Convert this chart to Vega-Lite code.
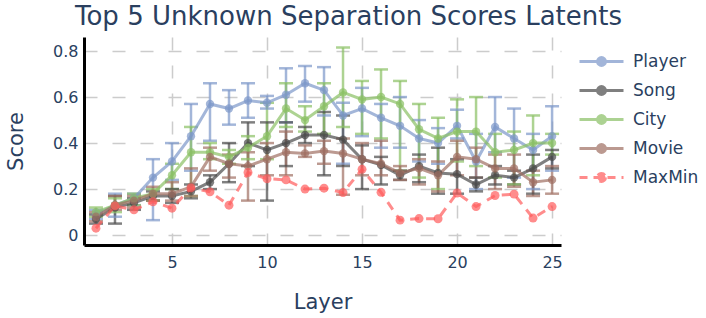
{
  "$schema": "https://vega.github.io/schema/vega-lite/v6.json",
  "width": 477,
  "height": 208,
  "autosize": "none",
  "padding": {"left": 84, "top": 37, "right": 145, "bottom": 73},
  "background": "white",
  "title": {"text": "Top 5 Unknown Separation Scores Latents", "font": "DejaVu Sans", "fontSize": 26, "fontWeight": "normal", "color": "#2a3f5f", "anchor": "middle", "offset": 7, "dx": 26},
  "config": {
    "view": {"stroke": null},
    "axis": {"labelFont": "DejaVu Sans", "labelFontSize": 16, "labelColor": "#2a3f5f", "titleFont": "DejaVu Sans", "titleFontSize": 21, "titleFontWeight": "normal", "titleColor": "#2a3f5f", "ticks": false, "domainColor": "#000000", "domainWidth": 3, "gridColor": "#cccccc", "gridDash": [13, 15], "gridWidth": 1.5}
  },
  "datasets": {
    "err": [
      {"layer":1,"series":"Player","mean":0.09,"lo":0.07,"hi":0.11},
      {"layer":2,"series":"Player","mean":0.13,"lo":0.08,"hi":0.18},
      {"layer":3,"series":"Player","mean":0.16,"lo":0.13,"hi":0.18},
      {"layer":4,"series":"Player","mean":0.25,"lo":0.065,"hi":0.33},
      {"layer":5,"series":"Player","mean":0.32,"lo":0.24,"hi":0.40},
      {"layer":6,"series":"Player","mean":0.43,"lo":0.28,"hi":0.57},
      {"layer":7,"series":"Player","mean":0.57,"lo":0.41,"hi":0.66},
      {"layer":8,"series":"Player","mean":0.55,"lo":0.48,"hi":0.63},
      {"layer":9,"series":"Player","mean":0.585,"lo":0.51,"hi":0.66},
      {"layer":10,"series":"Player","mean":0.575,"lo":0.55,"hi":0.605},
      {"layer":11,"series":"Player","mean":0.61,"lo":0.49,"hi":0.725},
      {"layer":12,"series":"Player","mean":0.66,"lo":0.58,"hi":0.735},
      {"layer":13,"series":"Player","mean":0.63,"lo":0.52,"hi":0.73},
      {"layer":14,"series":"Player","mean":0.52,"lo":0.31,"hi":0.575},
      {"layer":15,"series":"Player","mean":0.55,"lo":0.43,"hi":0.64},
      {"layer":16,"series":"Player","mean":0.51,"lo":0.38,"hi":0.57},
      {"layer":17,"series":"Player","mean":0.475,"lo":0.38,"hi":0.60},
      {"layer":18,"series":"Player","mean":0.42,"lo":0.32,"hi":0.50},
      {"layer":19,"series":"Player","mean":0.40,"lo":0.31,"hi":0.465},
      {"layer":20,"series":"Player","mean":0.475,"lo":0.42,"hi":0.545},
      {"layer":21,"series":"Player","mean":0.32,"lo":0.20,"hi":0.44},
      {"layer":22,"series":"Player","mean":0.47,"lo":0.36,"hi":0.60},
      {"layer":23,"series":"Player","mean":0.42,"lo":0.25,"hi":0.55},
      {"layer":24,"series":"Player","mean":0.37,"lo":0.20,"hi":0.44},
      {"layer":25,"series":"Player","mean":0.43,"lo":0.28,"hi":0.56},
      {"layer":1,"series":"Song","mean":0.07,"lo":0.05,"hi":0.09},
      {"layer":2,"series":"Song","mean":0.12,"lo":0.05,"hi":0.17},
      {"layer":3,"series":"Song","mean":0.14,"lo":0.11,"hi":0.16},
      {"layer":4,"series":"Song","mean":0.17,"lo":0.15,"hi":0.19},
      {"layer":5,"series":"Song","mean":0.17,"lo":0.14,"hi":0.20},
      {"layer":6,"series":"Song","mean":0.19,"lo":0.16,"hi":0.22},
      {"layer":7,"series":"Song","mean":0.23,"lo":0.20,"hi":0.26},
      {"layer":8,"series":"Song","mean":0.31,"lo":0.23,"hi":0.40},
      {"layer":9,"series":"Song","mean":0.40,"lo":0.30,"hi":0.49},
      {"layer":10,"series":"Song","mean":0.37,"lo":0.15,"hi":0.49},
      {"layer":11,"series":"Song","mean":0.40,"lo":0.30,"hi":0.49},
      {"layer":12,"series":"Song","mean":0.435,"lo":0.40,"hi":0.47},
      {"layer":13,"series":"Song","mean":0.435,"lo":0.26,"hi":0.535},
      {"layer":14,"series":"Song","mean":0.415,"lo":0.30,"hi":0.52},
      {"layer":15,"series":"Song","mean":0.33,"lo":0.20,"hi":0.39},
      {"layer":16,"series":"Song","mean":0.305,"lo":0.22,"hi":0.34},
      {"layer":17,"series":"Song","mean":0.26,"lo":0.24,"hi":0.28},
      {"layer":18,"series":"Song","mean":0.30,"lo":0.23,"hi":0.35},
      {"layer":19,"series":"Song","mean":0.27,"lo":0.18,"hi":0.38},
      {"layer":20,"series":"Song","mean":0.265,"lo":0.18,"hi":0.33},
      {"layer":21,"series":"Song","mean":0.22,"lo":0.19,"hi":0.25},
      {"layer":22,"series":"Song","mean":0.26,"lo":0.22,"hi":0.30},
      {"layer":23,"series":"Song","mean":0.25,"lo":0.22,"hi":0.28},
      {"layer":24,"series":"Song","mean":0.29,"lo":0.18,"hi":0.35},
      {"layer":25,"series":"Song","mean":0.34,"lo":0.29,"hi":0.37},
      {"layer":1,"series":"City","mean":0.10,"lo":0.08,"hi":0.12},
      {"layer":2,"series":"City","mean":0.13,"lo":0.10,"hi":0.16},
      {"layer":3,"series":"City","mean":0.16,"lo":0.13,"hi":0.18},
      {"layer":4,"series":"City","mean":0.18,"lo":0.15,"hi":0.20},
      {"layer":5,"series":"City","mean":0.26,"lo":0.20,"hi":0.31},
      {"layer":6,"series":"City","mean":0.36,"lo":0.17,"hi":0.47},
      {"layer":7,"series":"City","mean":0.36,"lo":0.33,"hi":0.40},
      {"layer":8,"series":"City","mean":0.34,"lo":0.31,"hi":0.37},
      {"layer":9,"series":"City","mean":0.38,"lo":0.33,"hi":0.43},
      {"layer":10,"series":"City","mean":0.43,"lo":0.33,"hi":0.575},
      {"layer":11,"series":"City","mean":0.55,"lo":0.47,"hi":0.66},
      {"layer":12,"series":"City","mean":0.50,"lo":0.45,"hi":0.56},
      {"layer":13,"series":"City","mean":0.56,"lo":0.44,"hi":0.66},
      {"layer":14,"series":"City","mean":0.62,"lo":0.47,"hi":0.815},
      {"layer":15,"series":"City","mean":0.59,"lo":0.44,"hi":0.67},
      {"layer":16,"series":"City","mean":0.60,"lo":0.42,"hi":0.72},
      {"layer":17,"series":"City","mean":0.57,"lo":0.28,"hi":0.67},
      {"layer":18,"series":"City","mean":0.46,"lo":0.25,"hi":0.57},
      {"layer":19,"series":"City","mean":0.42,"lo":0.20,"hi":0.51},
      {"layer":20,"series":"City","mean":0.45,"lo":0.32,"hi":0.59},
      {"layer":21,"series":"City","mean":0.45,"lo":0.30,"hi":0.60},
      {"layer":22,"series":"City","mean":0.36,"lo":0.25,"hi":0.44},
      {"layer":23,"series":"City","mean":0.37,"lo":0.22,"hi":0.45},
      {"layer":24,"series":"City","mean":0.40,"lo":0.26,"hi":0.52},
      {"layer":25,"series":"City","mean":0.40,"lo":0.35,"hi":0.44},
      {"layer":1,"series":"Movie","mean":0.08,"lo":0.06,"hi":0.10},
      {"layer":2,"series":"Movie","mean":0.13,"lo":0.11,"hi":0.17},
      {"layer":3,"series":"Movie","mean":0.15,"lo":0.12,"hi":0.17},
      {"layer":4,"series":"Movie","mean":0.18,"lo":0.15,"hi":0.21},
      {"layer":5,"series":"Movie","mean":0.18,"lo":0.15,"hi":0.23},
      {"layer":6,"series":"Movie","mean":0.21,"lo":0.17,"hi":0.29},
      {"layer":7,"series":"Movie","mean":0.34,"lo":0.28,"hi":0.38},
      {"layer":8,"series":"Movie","mean":0.31,"lo":0.25,"hi":0.35},
      {"layer":9,"series":"Movie","mean":0.30,"lo":0.15,"hi":0.36},
      {"layer":10,"series":"Movie","mean":0.33,"lo":0.26,"hi":0.40},
      {"layer":11,"series":"Movie","mean":0.36,"lo":0.26,"hi":0.45},
      {"layer":12,"series":"Movie","mean":0.355,"lo":0.34,"hi":0.39},
      {"layer":13,"series":"Movie","mean":0.365,"lo":0.31,"hi":0.41},
      {"layer":14,"series":"Movie","mean":0.355,"lo":0.175,"hi":0.42},
      {"layer":15,"series":"Movie","mean":0.33,"lo":0.26,"hi":0.40},
      {"layer":16,"series":"Movie","mean":0.31,"lo":0.26,"hi":0.41},
      {"layer":17,"series":"Movie","mean":0.27,"lo":0.24,"hi":0.30},
      {"layer":18,"series":"Movie","mean":0.29,"lo":0.22,"hi":0.33},
      {"layer":19,"series":"Movie","mean":0.26,"lo":0.19,"hi":0.32},
      {"layer":20,"series":"Movie","mean":0.34,"lo":0.26,"hi":0.41},
      {"layer":21,"series":"Movie","mean":0.33,"lo":0.25,"hi":0.38},
      {"layer":22,"series":"Movie","mean":0.29,"lo":0.20,"hi":0.35},
      {"layer":23,"series":"Movie","mean":0.29,"lo":0.21,"hi":0.35},
      {"layer":24,"series":"Movie","mean":0.23,"lo":0.17,"hi":0.28},
      {"layer":25,"series":"Movie","mean":0.24,"lo":0.18,"hi":0.30}
    ],
    "maxmin": [
      {"layer":1,"series":"MaxMin","mean":0.03},
      {"layer":2,"series":"MaxMin","mean":0.127},
      {"layer":3,"series":"MaxMin","mean":0.11},
      {"layer":4,"series":"MaxMin","mean":0.145},
      {"layer":5,"series":"MaxMin","mean":0.117},
      {"layer":6,"series":"MaxMin","mean":0.205},
      {"layer":7,"series":"MaxMin","mean":0.188},
      {"layer":8,"series":"MaxMin","mean":0.13},
      {"layer":9,"series":"MaxMin","mean":0.272},
      {"layer":10,"series":"MaxMin","mean":0.245},
      {"layer":11,"series":"MaxMin","mean":0.24},
      {"layer":12,"series":"MaxMin","mean":0.2},
      {"layer":13,"series":"MaxMin","mean":0.204},
      {"layer":14,"series":"MaxMin","mean":0.185},
      {"layer":15,"series":"MaxMin","mean":0.286},
      {"layer":16,"series":"MaxMin","mean":0.186},
      {"layer":17,"series":"MaxMin","mean":0.065},
      {"layer":18,"series":"MaxMin","mean":0.072},
      {"layer":19,"series":"MaxMin","mean":0.071},
      {"layer":20,"series":"MaxMin","mean":0.183},
      {"layer":21,"series":"MaxMin","mean":0.124},
      {"layer":22,"series":"MaxMin","mean":0.172},
      {"layer":23,"series":"MaxMin","mean":0.178},
      {"layer":24,"series":"MaxMin","mean":0.074},
      {"layer":25,"series":"MaxMin","mean":0.124}
    ]
  },
  "encoding": {
    "x": {"field": "layer", "type": "quantitative", "scale": {"domain": [0.37, 25.47], "nice": false, "zero": false}, "axis": {"values": [5, 10, 15, 20, 25], "title": "Layer", "labelPadding": 9, "titlePadding": 21}},
    "color": {"field": "series", "type": "nominal", "scale": {"domain": ["Player", "Song", "City", "Movie", "MaxMin"], "range": ["#7c97c9", "#4a4a4a", "#8ac064", "#9f6f62", "#ff5b5b"]},
      "legend": {"orient": "none", "legendX": 505, "legendY": 12, "title": null, "symbolType": "M-2,0H2M0.36,0A0.36,0.36,0,1,1,-0.36,0A0.36,0.36,0,1,1,0.36,0Z", "symbolSize": 484, "symbolStrokeWidth": 3, "symbolOpacity": 0.7, "labelFont": "DejaVu Sans", "labelFontSize": 17, "labelColor": "#2a3f5f", "labelOffset": 19, "rowPadding": 6,
        "encode": {"symbols": {"update": {"fill": {"scale": "color", "field": "value"}, "stroke": {"scale": "color", "field": "value"}, "strokeDash": {"signal": "datum.value === 'MaxMin' ? [8, 6] : null"}}}}}}
  },
  "layer": [
    {"data": {"name": "err"}, "mark": {"type": "rule", "strokeWidth": 2.5, "opacity": 0.7},
     "encoding": {"y": {"field": "lo", "type": "quantitative", "scale": {"domain": [-0.043, 0.861], "nice": false, "zero": false}, "axis": {"values": [0, 0.2, 0.4, 0.6, 0.8], "format": ".1~f", "title": "Score", "labelPadding": 6, "titlePadding": 26}}, "y2": {"field": "hi"}}},
    {"data": {"name": "err"}, "mark": {"type": "tick", "orient": "horizontal", "size": 14, "thickness": 2.5, "opacity": 0.7},
     "encoding": {"y": {"field": "lo", "type": "quantitative"}}},
    {"data": {"name": "err"}, "mark": {"type": "tick", "orient": "horizontal", "size": 14, "thickness": 2.5, "opacity": 0.7},
     "encoding": {"y": {"field": "hi", "type": "quantitative"}}},
    {"data": {"name": "err"}, "mark": {"type": "line", "strokeWidth": 3, "opacity": 0.7, "point": {"filled": true, "size": 70, "opacity": 0.7}},
     "encoding": {"y": {"field": "mean", "type": "quantitative"}}},
    {"data": {"name": "maxmin"}, "mark": {"type": "line", "strokeWidth": 3, "opacity": 0.7, "strokeDash": [9, 7], "point": {"filled": true, "size": 80, "opacity": 0.7}},
     "encoding": {"y": {"field": "mean", "type": "quantitative"}}}
  ]
}
